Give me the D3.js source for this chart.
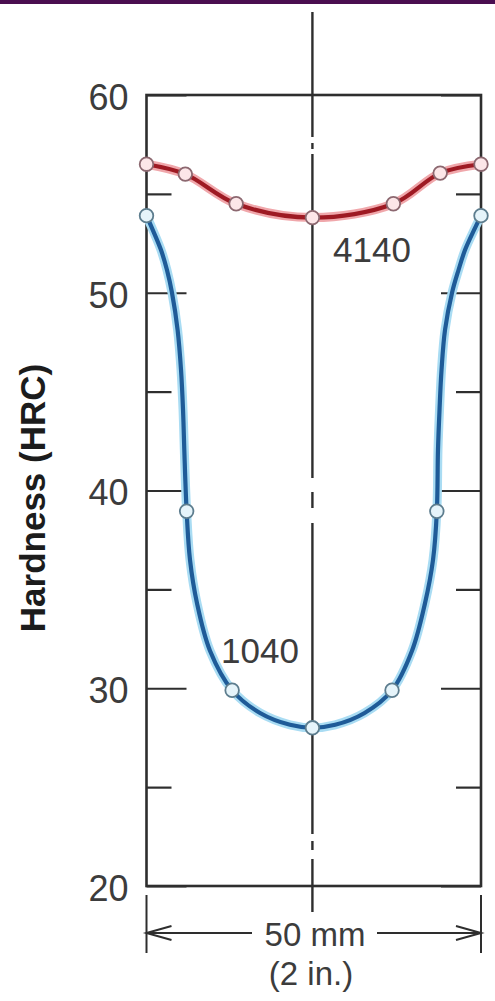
<!DOCTYPE html>
<html>
<head>
<meta charset="utf-8">
<script src="https://cdn.jsdelivr.net/npm/d3@7"></script>
<style>
  html, body { margin: 0; padding: 0; background: #fff; }
  svg { display: block; }
</style>
</head>
<body>
<svg id="chart" width="495" height="1001"></svg>
<script>
// ---- data ----
const majorTicks = [20, 30, 40, 50, 60];
const minorTicks = [25, 35, 45, 55];
const tickLabels = ["20", "30", "40", "50", "60"];

// measured points, position across the 50 mm bar (mm) and hardness (HRC)
const pos4140 = [0, 5.8, 13.4, 24.8, 36.9, 43.9, 50];
const hrc4140 = [56.5, 56.0, 54.5, 53.8, 54.5, 56.05, 56.5];

const pos1040 = [0, 6.0, 12.8, 24.8, 36.7, 43.4, 50];
const hrc1040 = [53.9, 38.95, 29.9, 28.0, 29.9, 38.95, 53.9];

// traced profile of the drawn 1040 curve
const tracePos1040 = [0, 0.82, 2.17, 3.06, 3.81, 4.65, 5.16, 5.46, 5.65, 6.0, 6.5, 7.55, 9.49, 12.8, 16.97, 21.45, 24.8,
                      28.2, 32.6, 36.7, 39.69, 41.63, 42.83, 43.4, 43.57, 43.8, 44.1, 44.62, 45.67, 46.64, 47.61, 49.1, 50];
const traceHrc1040 = [53.9, 53.27, 52.16, 51.15, 50.0, 48.12, 46.1, 44.08, 42.05, 38.95, 36.5, 34.3, 31.9, 29.9, 28.75, 28.15, 28.0,
                      28.15, 28.75, 29.9, 31.9, 34.3, 36.5, 38.95, 42.05, 44.08, 46.1, 48.12, 50.0, 51.15, 52.16, 53.27, 53.9];

const centerPos = 24.8;
const label4140 = "4140";
const label1040 = "1040";
const yTitle = "Hardness (HRC)";
const dimLabel1 = "50 mm";
const dimLabel2 = "(2 in.)";

// ---- drawing ----
const svg = d3.select("#chart");
const x = d3.scaleLinear().domain([0, 50]).range([146.5, 481]);
const y = d3.scaleLinear().domain([20, 60]).range([886, 95]);
const ink = "#2e2e2e";
const textCol = "#3c3c3c";
const font = "'Liberation Sans', Arial, Helvetica, sans-serif";

// purple bar at top
svg.append("rect").attr("x", 0).attr("y", 0).attr("width", 495).attr("height", 4).attr("fill", "#4a0e50");

// center line (dash-dot)
svg.append("line")
  .attr("x1", x(centerPos)).attr("x2", x(centerPos))
  .attr("y1", 12).attr("y2", 912)
  .attr("stroke", ink).attr("stroke-width", 2.4)
  .attr("stroke-dasharray", "125 6 6 5 324 14 16 15 311 7 9 9 53");

// box
svg.append("rect")
  .attr("x", x(0)).attr("y", y(60))
  .attr("width", x(50) - x(0)).attr("height", y(20) - y(60))
  .attr("fill", "none").attr("stroke", ink).attr("stroke-width", 2.6);

// axes with inward ticks
function styleAxis(g) {
  g.select(".domain").remove();
  g.selectAll(".tick line").attr("stroke", ink).attr("stroke-width", 2.2);
}
const leftMajor = svg.append("g").attr("transform", `translate(${x(0)},0)`)
  .call(d3.axisLeft(y).tickValues(majorTicks).tickSize(-40).tickPadding(58)
    .tickFormat((d, i) => tickLabels[i]));
styleAxis(leftMajor);
leftMajor.selectAll(".tick text")
  .attr("font-family", font).attr("font-size", 36).attr("fill", textCol)
  .attr("x", -18).attr("dy", "0.4em");

const leftMinor = svg.append("g").attr("transform", `translate(${x(0)},0)`)
  .call(d3.axisLeft(y).tickValues(minorTicks).tickSize(-25).tickFormat(""));
styleAxis(leftMinor);

const rightMajor = svg.append("g").attr("transform", `translate(${x(50)},0)`)
  .call(d3.axisRight(y).tickValues(majorTicks).tickSize(-40).tickFormat(""));
styleAxis(rightMajor);
const rightMinor = svg.append("g").attr("transform", `translate(${x(50)},0)`)
  .call(d3.axisRight(y).tickValues(minorTicks).tickSize(-25).tickFormat(""));
styleAxis(rightMinor);

// curves
const line = d3.line().x(d => x(d[0])).y(d => y(d[1])).curve(d3.curveCatmullRom.alpha(0.5));
const pts4140 = pos4140.map((p, i) => [p, hrc4140[i]]);
const pts1040 = pos1040.map((p, i) => [p, hrc1040[i]]);
const trace1040 = tracePos1040.map((p, i) => [p, traceHrc1040[i]]);

svg.append("path").attr("d", line(trace1040)).attr("fill", "none")
  .attr("stroke", "#a9dcf3").attr("stroke-width", 9).attr("stroke-linecap", "round");
svg.append("path").attr("d", line(trace1040)).attr("fill", "none")
  .attr("stroke", "#1f5b98").attr("stroke-width", 4.2).attr("stroke-linecap", "round");

svg.append("path").attr("d", line(pts4140)).attr("fill", "none")
  .attr("stroke", "#f0a7ab").attr("stroke-width", 9).attr("stroke-linecap", "round");
svg.append("path").attr("d", line(pts4140)).attr("fill", "none")
  .attr("stroke", "#9e1a23").attr("stroke-width", 4.2).attr("stroke-linecap", "round");

// markers
svg.append("g").selectAll("circle").data(pts1040).join("circle")
  .attr("cx", d => x(d[0])).attr("cy", d => y(d[1])).attr("r", 6.8)
  .attr("fill", "#e6f4fa").attr("stroke", "#5d7d8e").attr("stroke-width", 1.8);
svg.append("g").selectAll("circle").data(pts4140).join("circle")
  .attr("cx", d => x(d[0])).attr("cy", d => y(d[1])).attr("r", 6.8)
  .attr("fill", "#fce6e8").attr("stroke", "#8c6870").attr("stroke-width", 1.8);

// series labels
svg.append("text").attr("x", 333).attr("y", 262).text(label4140)
  .attr("font-family", font).attr("font-size", 35).attr("fill", textCol);
svg.append("text").attr("x", 221).attr("y", 663).text(label1040)
  .attr("font-family", font).attr("font-size", 35).attr("fill", textCol);

// y title
svg.append("text")
  .attr("transform", "translate(32,498) rotate(-90)")
  .attr("text-anchor", "middle").attr("dominant-baseline", "central")
  .attr("font-family", font).attr("font-weight", "bold").attr("font-size", 35)
  .attr("fill", "#1c1c1c").text(yTitle);

// dimension annotation
const dimY = 933;
const dim = svg.append("g").attr("stroke", ink).attr("stroke-width", 2).attr("fill", "none");
[x(0), x(50)].forEach(xx => {
  dim.append("line").attr("x1", xx).attr("x2", xx).attr("y1", 895).attr("y2", 953);
});
dim.append("line").attr("x1", x(0)).attr("x2", 252).attr("y1", dimY).attr("y2", dimY);
dim.append("line").attr("x1", 377).attr("x2", x(50)).attr("y1", dimY).attr("y2", dimY);
dim.append("path").attr("d", `M${x(0) + 25},${dimY - 7} L${x(0)},${dimY} L${x(0) + 25},${dimY + 7}`);
dim.append("path").attr("d", `M${x(50) - 25},${dimY - 7} L${x(50)},${dimY} L${x(50) - 25},${dimY + 7}`);

svg.append("text").attr("x", 315).attr("y", 946).attr("text-anchor", "middle")
  .attr("font-family", font).attr("font-size", 33).attr("fill", textCol).text(dimLabel1);
svg.append("text").attr("x", 311).attr("y", 985).attr("text-anchor", "middle")
  .attr("font-family", font).attr("font-size", 33).attr("fill", textCol).text(dimLabel2);
</script>
</body>
</html>
